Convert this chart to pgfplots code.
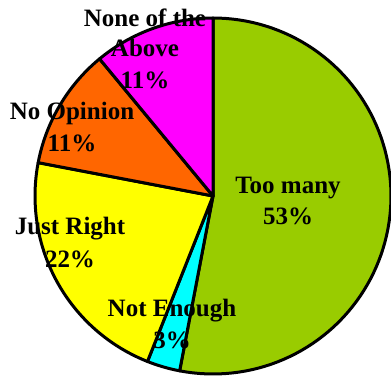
\documentclass[border=0pt]{standalone}
\usepackage{pgfplots}
\pgfplotsset{compat=1.18}
\usepackage{fontspec}
\setmainfont{Liberation Serif}
\definecolor{cTooMany}{HTML}{99CC00}
\definecolor{cNotEnough}{HTML}{00FFFF}
\definecolor{cJustRight}{HTML}{FFFF00}
\definecolor{cNoOpinion}{HTML}{FF6600}
\definecolor{cNone}{HTML}{FF00FF}
% pie values (percent), clockwise from the top
\def\vTooMany{53}
\def\vNotEnough{3}
\def\vJustRight{22}
\def\vNoOpinion{11}
\def\vNone{11}
\tikzset{lab/.style={font=\fontsize{25}{30}\selectfont\bfseries, anchor=base, inner sep=0pt}}
\begin{document}
\begin{tikzpicture}
\begin{axis}[hide axis, scale only axis, width=391pt, height=375pt,
  xmin=0, xmax=391, ymin=0, ymax=375]
\path (axis cs:0,0) rectangle (axis cs:391,375);
\pgfmathsetmacro{\aA}{90}
\pgfmathsetmacro{\aB}{\aA-3.6*\vTooMany}
\pgfmathsetmacro{\aC}{\aB-3.6*\vNotEnough}
\pgfmathsetmacro{\aD}{\aC-3.6*\vJustRight}
\pgfmathsetmacro{\aE}{\aD-3.6*\vNoOpinion}
\pgfmathsetmacro{\aF}{\aE-3.6*\vNone}
\def\cx{213}\def\cy{179}\def\rr{178}
\addplot[fill=cTooMany, draw=black, line width=3pt, line join=round, domain=\aB:\aA, samples=90, variable=\t]
  ({\cx+\rr*cos(\t)},{\cy+\rr*sin(\t)}) -- (axis cs:\cx,\cy) -- cycle;
\addplot[fill=cNotEnough, draw=black, line width=3pt, line join=round, domain=\aC:\aB, samples=10, variable=\t]
  ({\cx+\rr*cos(\t)},{\cy+\rr*sin(\t)}) -- (axis cs:\cx,\cy) -- cycle;
\addplot[fill=cJustRight, draw=black, line width=3pt, line join=round, domain=\aD:\aC, samples=50, variable=\t]
  ({\cx+\rr*cos(\t)},{\cy+\rr*sin(\t)}) -- (axis cs:\cx,\cy) -- cycle;
\addplot[fill=cNoOpinion, draw=black, line width=3pt, line join=round, domain=\aE:\aD, samples=30, variable=\t]
  ({\cx+\rr*cos(\t)},{\cy+\rr*sin(\t)}) -- (axis cs:\cx,\cy) -- cycle;
\addplot[fill=cNone, draw=black, line width=3pt, line join=round, domain=\aF:\aE, samples=30, variable=\t]
  ({\cx+\rr*cos(\t)},{\cy+\rr*sin(\t)}) -- (axis cs:\cx,\cy) -- cycle;
% labels
\node[lab] at (axis cs:145,348) {None of the};
\node[lab] at (axis cs:145,318) {Above};
\node[lab] at (axis cs:145,286) {11\%};
\node[lab] at (axis cs:72,255) {No Opinion};
\node[lab] at (axis cs:72,223) {11\%};
\node[lab] at (axis cs:70,140) {Just Right};
\node[lab] at (axis cs:70,107) {22\%};
\node[lab] at (axis cs:172,58) {Not Enough};
\node[lab] at (axis cs:172,27) {3\%};
\node[lab] at (axis cs:288,181) {Too many};
\node[lab] at (axis cs:288,150) {53\%};
\end{axis}
\end{tikzpicture}
\end{document}
